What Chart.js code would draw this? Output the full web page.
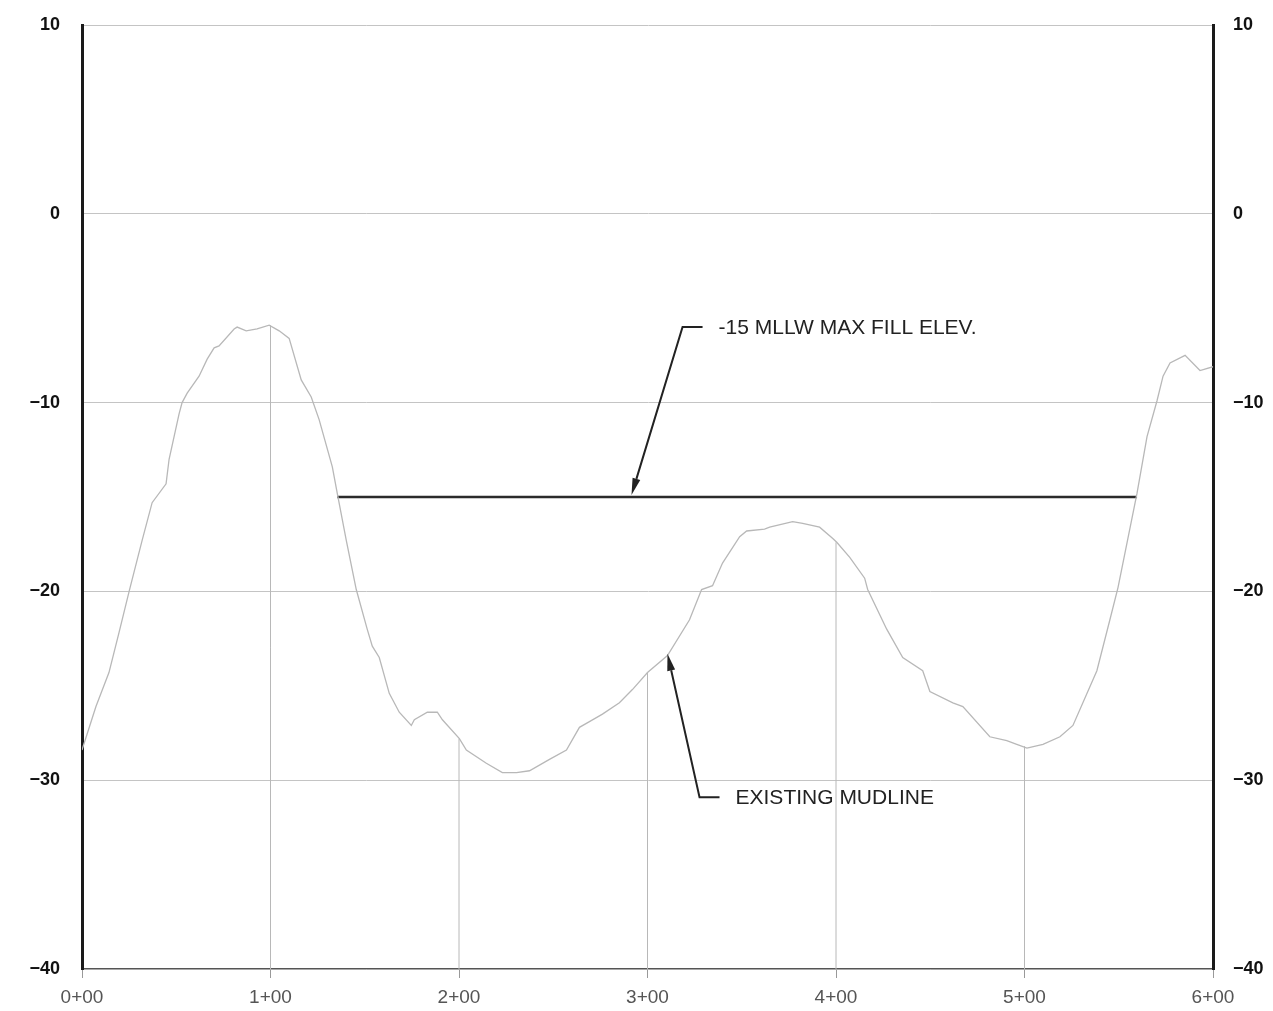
<!DOCTYPE html>
<html>
<head>
<meta charset="utf-8">
<script src="https://cdn.jsdelivr.net/npm/chart.js@4"></script>
<style>
  html, body { margin: 0; padding: 0; background: #fff; }
  #wrap { width: 1273px; height: 1011px; }
</style>
</head>
<body>
<div id="wrap"><canvas id="profileChart"></canvas></div>
<script>
// stations along the profile (ft) and mudline elevation (ft MLLW)
const stations = [0, 7.4, 14.3, 19.6, 25, 31.9, 37.2, 44.6, 46.2, 51.5, 53.1, 55.8, 62.1, 66.4, 70.1, 72.7,
  80.7, 82.3, 87.1, 92.9, 99.3, 104.6, 109.9, 116.3, 121.6, 125.8, 132.8, 135.4, 140.2, 145.5, 151.3,
  154, 157.7, 163, 168.3, 174.7, 176.3, 183.2, 188.5, 191.2, 200.2, 203.9, 214.5, 223, 230.5, 237.4,
  248, 257, 263.9, 269.2, 276.1, 285.1, 292, 300, 310.6, 322.3, 328.7, 334.5, 339.8, 348.9, 352.6,
  362.1, 364.8, 377, 382.3, 391.3, 398.3, 400.4, 407.3, 415.2, 416.8, 426.9, 435.4, 446, 449.8, 462,
  467.3, 481.6, 490.6, 495.9, 501.3, 509.8, 518.8, 525.7, 538.4, 545.3, 549.6, 559.7, 565, 570.3,
  573.5, 577.2, 585.2, 593.1, 600];
const elevations = [-28.4, -26.1, -24.3, -22.2, -20.0, -17.3, -15.3, -14.3, -13.0, -10.6, -10.0, -9.5, -8.6, -7.7, -7.1, -7.0,
  -6.1, -6.0, -6.2, -6.1, -5.9, -6.2, -6.6, -8.8, -9.7, -10.9, -13.4, -14.8, -17.3, -19.9, -22.0,
  -22.9, -23.5, -25.4, -26.4, -27.1, -26.8, -26.4, -26.4, -26.8, -27.8, -28.4, -29.1, -29.6, -29.6, -29.5,
  -28.9, -28.4, -27.2, -26.9, -26.5, -25.9, -25.2, -24.3, -23.4, -21.5, -19.9, -19.7, -18.5, -17.1, -16.8,
  -16.7, -16.6, -16.3, -16.4, -16.6, -17.2, -17.4, -18.2, -19.3, -19.9, -22.0, -23.5, -24.2, -25.3, -25.9,
  -26.1, -27.7, -27.9, -28.1, -28.3, -28.1, -27.7, -27.1, -24.2, -21.5, -19.8, -14.8, -11.8, -9.9,
  -8.6, -7.9, -7.5, -8.3, -8.1];

const stationLabels = ['0+00', '1+00', '2+00', '3+00', '4+00', '5+00', '6+00'];
const elevTicks = [10, 0, -10, -20, -30, -40];

// station lines drawn from the bottom up to the mudline
const gridStations = [100, 200, 300, 400, 500];
const gridTops = [-5.9, -27.8, -24.3, -17.4, -28.2];

// max fill elevation line
const fillElev = -15;
const fillFrom = 135.4;
const fillTo = 559.7;

const calloutTexts = ['-15 MLLW MAX FILL ELEV.', 'EXISTING MUDLINE'];
const calloutTips = [[291.5, -14.9], [310.6, -23.3]];
const calloutCorners = [[318.6, -6.0], [327.6, -30.9]];

const profile = stations.map((s, i) => ({ x: s, y: elevations[i] }));

const datasets = [
  {
    data: profile,
    borderColor: '#b8b8b8',
    borderWidth: 1.3,
    pointRadius: 0,
    tension: 0
  },
  {
    data: [{ x: fillFrom, y: fillElev }, { x: fillTo, y: fillElev }],
    borderColor: '#2b2b2b',
    borderWidth: 2.5,
    pointRadius: 0
  }
];
gridStations.forEach((s, i) => {
  datasets.push({
    data: [{ x: s, y: -40 }, { x: s, y: gridTops[i] }],
    borderColor: '#b8b8b8',
    borderWidth: 1,
    pointRadius: 0
  });
});

// leaders, arrowheads and labels
const calloutPlugin = {
  id: 'callouts',
  afterDatasetsDraw(chart) {
    const ctx = chart.ctx;
    const xs = chart.scales.x, ys = chart.scales.y;
    ctx.save();
    ctx.strokeStyle = '#222';
    ctx.fillStyle = '#222';
    ctx.lineWidth = 2;
    calloutTexts.forEach((txt, i) => {
      const tx = xs.getPixelForValue(calloutTips[i][0]);
      const ty = ys.getPixelForValue(calloutTips[i][1]);
      const cx = xs.getPixelForValue(calloutCorners[i][0]);
      const cy = ys.getPixelForValue(calloutCorners[i][1]);
      const ang = Math.atan2(ty - cy, tx - cx);
      const headLen = 17, headW = 4;
      const bx = tx - headLen * Math.cos(ang), by = ty - headLen * Math.sin(ang);
      ctx.beginPath();
      ctx.moveTo(cx + 20, cy);
      ctx.lineTo(cx, cy);
      ctx.lineTo(bx, by);
      ctx.stroke();
      ctx.beginPath();
      ctx.moveTo(tx, ty);
      ctx.lineTo(bx + headW * Math.sin(ang), by - headW * Math.cos(ang));
      ctx.lineTo(bx - headW * Math.sin(ang), by + headW * Math.cos(ang));
      ctx.closePath();
      ctx.fill();
      ctx.font = '21px "Liberation Sans", Arial, sans-serif';
      ctx.textBaseline = 'middle';
      ctx.textAlign = 'left';
      ctx.fillText(txt, cx + 36, cy + 1);
    });
    ctx.restore();
  }
};

const elevLabel = v => (v < 0 ? '\u2212' + Math.abs(v) : String(v));

new Chart(document.getElementById('profileChart'), {
  type: 'line',
  data: { datasets },
  options: {
    responsive: true,
    maintainAspectRatio: false,
    animation: false,
    layout: { padding: { top: 25, right: 0, left: 0, bottom: 0 } },
    plugins: { legend: { display: false }, tooltip: { enabled: false } },
    scales: {
      x: {
        type: 'linear',
        min: 0,
        max: 600,
        afterFit: s => { s.height = 42; },
        afterBuildTicks: s => { s.ticks = stationLabels.map((_, i) => ({ value: i * 100 })); },
        ticks: {
          callback: v => stationLabels[v / 100],
          color: '#555',
          font: { family: '"Liberation Sans", Arial, sans-serif', size: 19 },
          padding: 8,
          maxRotation: 0
        },
        grid: { drawOnChartArea: false, drawTicks: true, tickLength: 9, color: '#999' },
        border: { color: '#555', width: 1.2 }
      },
      y: {
        min: -40,
        max: 10,
        afterFit: s => { s.width = 82; },
        afterBuildTicks: s => { s.ticks = elevTicks.map(v => ({ value: v })); },
        ticks: {
          callback: elevLabel,
          color: '#111',
          font: { family: '"Liberation Sans", Arial, sans-serif', size: 18, weight: 'bold' },
          padding: 2
        },
        grid: { color: '#c4c4c4', lineWidth: 1, drawTicks: true, tickLength: 20, tickColor: 'rgba(0,0,0,0)' },
        border: { color: '#1a1a1a', width: 3 }
      },
      y2: {
        position: 'right',
        min: -40,
        max: 10,
        afterFit: s => { s.width = 60; },
        afterBuildTicks: s => { s.ticks = elevTicks.map(v => ({ value: v })); },
        ticks: {
          callback: elevLabel,
          color: '#111',
          font: { family: '"Liberation Sans", Arial, sans-serif', size: 18, weight: 'bold' },
          padding: 2
        },
        grid: { drawOnChartArea: false, drawTicks: true, tickLength: 18, tickColor: 'rgba(0,0,0,0)' },
        border: { color: '#1a1a1a', width: 3 }
      }
    }
  },
  plugins: [calloutPlugin]
});
</script>
</body>
</html>
